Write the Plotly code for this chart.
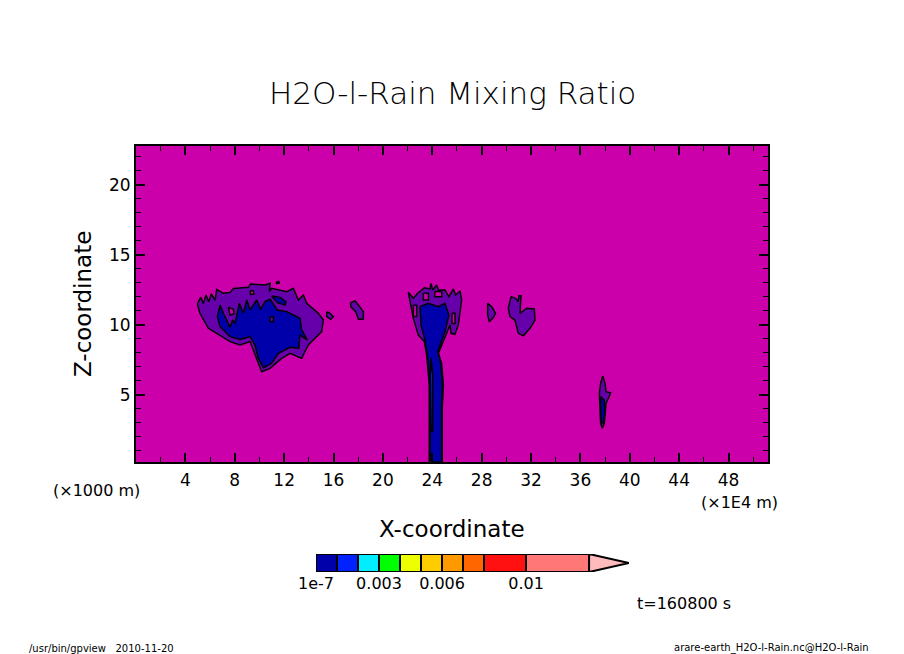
import plotly.graph_objects as go

# contours: x in 1E4 m, z in 1000 m
west_low_x = [4.97, 5.24, 5.46, 5.67, 5.89, 6.10, 6.40, 6.54, 7.08, 7.62, 7.89, 9.10, 9.29, 10.45, 10.86, 10.80, 10.99,
              12.21, 12.75, 12.96, 13.15, 13.56, 13.83, 14.77, 15.18, 15.04, 13.96, 13.42, 12.48, 11.80, 10.86, 10.18,
              9.91, 9.24, 8.43, 7.62, 6.54, 5.86, 5.18]
west_low_z = [11.49, 11.96, 11.53, 12.13, 11.65, 12.20, 11.77, 12.53, 12.25, 12.30, 12.60, 12.68, 12.91, 12.84, 12.96,
              12.37, 12.60, 12.37, 12.60, 12.13, 11.77, 12.13, 11.53, 10.82, 10.34, 9.51, 8.56, 7.60, 7.96, 7.60, 6.89,
              6.65, 7.25, 8.80, 8.56, 8.80, 9.39, 9.75, 10.82]
west_high_x = [6.59, 6.81, 7.08, 7.62, 7.83, 8.02, 8.37, 8.70, 8.97, 9.24, 9.78, 10.10, 10.45, 10.86, 11.45, 12.21,
               13.29, 13.42, 13.88, 13.29, 13.18, 12.48, 11.53, 10.99, 10.32, 9.91, 9.64, 9.24, 8.43, 7.62, 6.81]
west_high_z = [10.58, 11.41, 10.82, 9.82, 10.34, 10.10, 11.53, 10.82, 11.77, 11.06, 11.77, 11.10, 11.65, 11.82, 11.06,
               10.94, 10.46, 9.63, 8.91, 9.27, 8.32, 8.39, 7.96, 7.25, 6.94, 7.60, 8.56, 9.15, 8.96, 9.15, 9.87]
west_patch_x = [10.99, 11.67, 12.15, 12.07, 11.45]
west_patch_z = [12.06, 11.96, 11.65, 11.41, 11.58]
west_gap_x = [10.86, 11.13, 11.13, 10.86]
west_gap_z = [10.58, 10.58, 10.22, 10.22]
west_hole1_x = [9.24, 9.50, 9.56, 9.29]
west_hole1_z = [12.44, 12.44, 12.20, 12.15]
west_hole2_x = [7.48, 7.89, 7.94, 7.62]
west_hole2_z = [11.25, 11.10, 10.77, 10.70]
island1_x = [15.45, 15.72, 15.99, 15.77, 15.45]
island1_z = [10.94, 10.82, 10.58, 10.39, 10.58]
island2_x = [11.34, 11.56, 11.61, 11.40]
island2_z = [13.03, 13.10, 12.99, 12.94]
island3_x = [17.39, 17.75, 18.02, 18.42, 18.42, 18.02, 17.80, 17.39]
island3_z = [11.58, 11.70, 11.41, 10.94, 10.39, 10.39, 10.94, 11.30]

plume_low_x = [22.06, 22.47, 22.82, 23.36, 23.82, 23.90, 24.03, 24.36, 24.49, 25.03, 25.35, 25.71, 25.89, 26.25, 26.38,
               26.25, 26.11, 25.84, 25.52, 25.44, 25.03, 24.49, 24.76, 24.90, 24.81, 24.81, 23.76, 23.76, 23.55, 23.36,
               22.87, 22.47]
plume_low_z = [12.32, 11.89, 12.25, 12.65, 12.56, 12.96, 12.49, 12.84, 12.49, 12.49, 12.01, 12.56, 12.13, 12.41, 11.77,
               10.94, 9.99, 9.32, 9.39, 9.99, 9.15, 7.96, 7.25, 5.70, 4.03, 0.2, 0.2, 5.70, 7.84, 8.80, 9.27, 10.46]
plume_high_x = [23.01, 23.68, 24.49, 25.03, 25.35, 25.03, 24.44, 24.71, 24.81, 24.76, 24.76, 23.82, 23.82, 23.60, 23.41,
                23.09]
plume_high_z = [11.30, 11.53, 11.30, 11.53, 10.70, 9.51, 8.08, 7.25, 5.70, 4.03, 0.2, 0.2, 5.70, 7.84, 8.91, 9.98]
plume_core_x = [23.90, 24.03, 24.03, 23.90, 23.84]
plume_core_z = [7.60, 6.41, 2.37, 2.37, 6.41]
plume_hole1_x = [23.28, 23.69, 23.69, 23.28]
plume_hole1_z = [12.25, 12.25, 11.77, 11.77]
plume_hole2_x = [24.20, 24.77, 24.77, 24.20]
plume_hole2_z = [12.37, 12.37, 12.00, 12.00]
plume_hole3_x = [25.60, 25.85, 25.85, 25.60]
plume_hole3_z = [10.82, 10.82, 10.10, 10.10]
plume_hole4_x = [22.47, 22.74, 22.74, 22.47]
plume_hole4_z = [11.40, 11.40, 10.60, 10.60]

east1_x = [28.49, 28.81, 29.13, 28.95, 28.62, 28.49]
east1_z = [11.53, 11.30, 10.82, 10.51, 10.22, 10.70]
east2_x = [30.38, 30.75, 30.97, 31.02, 31.19, 31.13, 31.11, 31.65, 32.27, 32.32, 31.92, 31.38, 30.97, 30.70, 30.30, 30.16]
east2_z = [12.01, 11.89, 11.65, 12.08, 12.08, 11.41, 10.82, 11.18, 11.13, 10.34, 9.75, 9.22, 9.39, 10.34, 10.58, 11.18]
far_low_x = [37.81, 38.00, 38.08, 38.45, 38.35, 38.08, 37.94, 37.78, 37.64, 37.54, 37.64]
far_low_z = [6.34, 5.82, 5.22, 5.15, 4.91, 4.39, 2.96, 2.61, 2.96, 5.10, 5.82]
far_high_x = [37.78, 37.94, 37.97, 37.86, 37.67, 37.64]
far_high_z = [4.75, 4.63, 3.67, 2.96, 3.08, 4.87]

x_ticks = [4, 8, 12, 16, 20, 24, 28, 32, 36, 40, 44, 48]

# colour bar
levels = [1e-7, 0.001, 0.002, 0.003, 0.004, 0.005, 0.006, 0.007, 0.008, 0.01, 0.013]
level_colors = ["#0000aa", "#0022ff", "#00eeff", "#00ff00", "#eeff00", "#ffcc00", "#ff9900", "#ff6600", "#ff1111",
                "#ff7777"]
over_value = 0.0149
over_color = "#ffbbbb"
bar_ticks = [1e-7, 0.003, 0.006, 0.01]
bar_labels = ["1e-7", "0.003", "0.006", "0.01"]

BACK = "#cc00aa"
LOW = "#6600aa"
HIGH = "#0000aa"
MID = "#0022ff"

fig = go.Figure()

shapes_list = [
    (west_low_x, west_low_z, LOW),
    (west_hole1_x, west_hole1_z, BACK),
    (west_hole2_x, west_hole2_z, BACK),
    (island1_x, island1_z, LOW),
    (island2_x, island2_z, BACK),
    (island3_x, island3_z, LOW),
    (west_high_x, west_high_z, HIGH),
    (west_patch_x, west_patch_z, HIGH),
    (west_gap_x, west_gap_z, LOW),
    (plume_low_x, plume_low_z, LOW),
    (plume_hole1_x, plume_hole1_z, BACK),
    (plume_hole2_x, plume_hole2_z, BACK),
    (plume_hole3_x, plume_hole3_z, BACK),
    (plume_hole4_x, plume_hole4_z, BACK),
    (plume_high_x, plume_high_z, HIGH),
    (plume_core_x, plume_core_z, MID),
    (east1_x, east1_z, LOW),
    (east2_x, east2_z, LOW),
    (far_low_x, far_low_z, LOW),
    (far_high_x, far_high_z, HIGH),
]
for xs, zs, col in shapes_list:
    fig.add_trace(go.Scatter(x=xs + xs[:1], y=zs + zs[:1], mode="lines", fill="toself", fillcolor=col,
                             line=dict(color="black", width=1.5), showlegend=False, hoverinfo="skip"))

# colour bar drawn as bars on its own axes
for i, col in enumerate(level_colors):
    fig.add_trace(go.Bar(y=[0.5], x=[levels[i + 1] - levels[i]], base=[levels[i]], orientation="h", width=[1],
                         marker=dict(color=col, line=dict(color="black", width=2)), xaxis="x2", yaxis="y2",
                         showlegend=False, hoverinfo="skip"))
fig.add_trace(go.Scatter(x=[levels[-1], over_value, levels[-1], levels[-1]], y=[1, 0.5, 0, 1], mode="lines",
                         fill="toself", fillcolor=over_color, line=dict(color="black", width=2), xaxis="x2",
                         yaxis="y2", showlegend=False, hoverinfo="skip"))

FONT = "DejaVu Sans"


def note(text, x, y, size, angle=0, weight=400):
    fig.add_annotation(text=text, x=x / 904, y=1 - y / 654, xref="paper", yref="paper", showarrow=False,
                       xanchor="center", yanchor="middle", textangle=angle,
                       font=dict(family=FONT, size=size, color="black", weight=weight))


note("H2O-l-Rain Mixing Ratio", 452, 93, 31, weight=200)
note("X-coordinate", 452, 529, 23)
note("Z-coordinate", 83, 304, 23, angle=-90)
note("(×1000 m)", 96, 490, 16)
note("(×1E4 m)", 739, 502, 16)
note("t=160800 s", 684, 603, 16)
note("/usr/bin/gpview&nbsp;&nbsp;&nbsp;2010-11-20", 101, 648, 10)
note("arare-earth_H2O-l-Rain.nc@H2O-l-Rain", 771, 648, 10)

fig.add_shape(type="rect", xref="x domain", yref="y domain", x0=0, x1=1, y0=0, y1=1, fillcolor=BACK, line_width=0,
              layer="below")

fig.update_layout(
    width=904,
    height=654,
    margin=dict(l=0, r=0, t=0, b=0),
    paper_bgcolor="white",
    plot_bgcolor="white",
    bargap=0,
    barmode="overlay",
    font=dict(family=FONT, color="black"),
    xaxis=dict(
        domain=[136 / 904, 768 / 904],
        range=[0, 51.2],
        automargin=False,
        tickmode="array",
        tickvals=x_ticks,
        ticks="inside",
        ticklen=9,
        tickwidth=2,
        tickcolor="black",
        minor=dict(dtick=2, tick0=0, ticks="inside", ticklen=5, tickwidth=1, tickcolor="black"),
        showgrid=False,
        zeroline=False,
        showline=True,
        linecolor="black",
        linewidth=2,
        mirror="allticks",
        tickfont=dict(family=FONT, size=17),
        ticklabelstandoff=2,
        anchor="y",
    ),
    yaxis=dict(
        domain=[1 - 462 / 654, 1 - 146 / 654],
        range=[0.2, 22.77],
        automargin=False,
        tick0=0,
        dtick=5,
        ticks="inside",
        ticklen=9,
        tickwidth=2,
        tickcolor="black",
        minor=dict(dtick=1, tick0=0, ticks="inside", ticklen=5, tickwidth=1, tickcolor="black"),
        showgrid=False,
        zeroline=False,
        showline=True,
        linecolor="black",
        linewidth=2,
        mirror="allticks",
        tickfont=dict(family=FONT, size=17),
        anchor="x",
    ),
    xaxis2=dict(
        domain=[316 / 904, 629 / 904],
        range=[0, over_value],
        automargin=False,
        tickmode="array",
        tickvals=bar_ticks,
        ticktext=bar_labels,
        ticks="",
        showgrid=False,
        zeroline=False,
        showline=False,
        tickfont=dict(family=FONT, size=16),
        anchor="y2",
    ),
    yaxis2=dict(
        domain=[1 - 572 / 654, 1 - 554 / 654],
        range=[0, 1],
        automargin=False,
        showticklabels=False,
        ticks="",
        showgrid=False,
        zeroline=False,
        showline=False,
        anchor="x2",
    ),
)

fig.write_html("out.html", config=dict(displayModeBar=False), post_script="document.body.style.margin='0';")
